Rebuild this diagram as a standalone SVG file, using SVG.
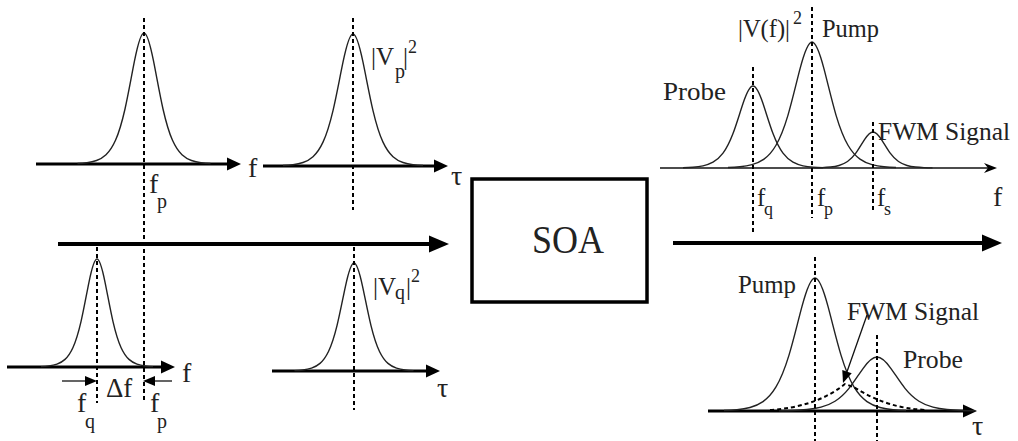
<svg xmlns="http://www.w3.org/2000/svg" xmlns:xlink="http://www.w3.org/1999/xlink" width="1018" height="441" viewBox="0 0 1018 441">
<style>
  text { font-family: 'Liberation Serif', 'Times New Roman', serif; fill: #222; }
  .lbl { font-size: 25px; }
  .ax { font-size: 28px; }
  .sub { font-size: 20px; }
  .sup { font-size: 18px; }
  .big { font-size: 40px; }
  .axis { stroke: #000; stroke-width: 3; fill: none; }
  .thin { stroke: #111; stroke-width: 1.3; fill: none; }
  .main { stroke: #000; stroke-width: 4; fill: none; }
  .dash { stroke: #000; stroke-width: 2; stroke-dasharray: 4 3; fill: none; }
  .bellpath { stroke: #222; stroke-width: 1.4; fill: none; vector-effect: non-scaling-stroke; }
</style>
<defs>
  <path id="bell" class="bellpath" d="M-3.5,-0.0036 C-3.3333,-0.0048 -3.1667,-0.0066 -3,-0.0099 C-2.8333,-0.0131 -2.6667,-0.0179 -2.5,-0.0266 C-2.3333,-0.0354 -2.1667,-0.048 -2,-0.0707 C-1.8333,-0.0934 -1.6667,-0.1262 -1.5,-0.1807 C-1.3333,-0.2352 -1.1667,-0.3134 -1,-0.42 C-0.8333,-0.5266 -0.6667,-0.6653 -0.5,-0.7864 C-0.3333,-0.9075 -0.1667,-1 0,-1 C0.1667,-1 0.3333,-0.9075 0.5,-0.7864 C0.6667,-0.6653 0.8333,-0.5266 1,-0.42 C1.1667,-0.3134 1.3333,-0.2352 1.5,-0.1807 C1.6667,-0.1262 1.8333,-0.0934 2,-0.0707 C2.1667,-0.048 2.3333,-0.0354 2.5,-0.0266 C2.6667,-0.0179 2.8333,-0.0131 3,-0.0099 C3.1667,-0.0066 3.3333,-0.0048 3.5,-0.0036"/>
  <marker id="hAxis" markerUnits="userSpaceOnUse" orient="auto" refX="0" refY="0" markerWidth="14" markerHeight="14" overflow="visible">
    <path d="M0,-6.5 L14,0 L0,6.5 z" fill="#000"/>
  </marker>
  <marker id="hBig" markerUnits="userSpaceOnUse" orient="auto" refX="0" refY="0" markerWidth="20" markerHeight="16" overflow="visible">
    <path d="M0,-8.5 L20,0 L0,8.5 z" fill="#000"/>
  </marker>
  <marker id="hThin" markerUnits="userSpaceOnUse" orient="auto" refX="4" refY="0" markerWidth="13" markerHeight="10" overflow="visible">
    <path d="M0,-5 L13,0 L0,5 L4,0 z" fill="#000"/>
  </marker>
  <marker id="hSmall" markerUnits="userSpaceOnUse" orient="auto" refX="0" refY="0" markerWidth="12" markerHeight="10" overflow="visible">
    <path d="M0,-5 L12,0 L0,5 z" fill="#000"/>
  </marker>
</defs>

<g id="connectors">
  <line class="main" x1="58" y1="244" x2="429" y2="244" marker-end="url(#hBig)"/>
  <line class="main" x1="673" y1="243" x2="982" y2="243" marker-end="url(#hBig)"/>
</g>

<g id="soa">
  <rect x="472" y="179" width="175" height="123" fill="#fff" stroke="#000" stroke-width="3.5"/>
  <text class="big" x="532" y="253" textLength="72" lengthAdjust="spacingAndGlyphs">SOA</text>
</g>

<g id="pump-spectrum">
  <line class="axis" x1="36" y1="164" x2="227" y2="164" marker-end="url(#hAxis)"/>
  <use xlink:href="#bell" transform="translate(144,164) scale(19,131)"/>
  <line class="dash" x1="144" y1="18" x2="144" y2="400"/>
  <text class="ax" x="248" y="177">f</text>
  <text class="ax" x="149" y="193">f</text>
  <text class="sub" x="157" y="208">p</text>
</g>

<g id="pump-time">
  <line class="axis" x1="263" y1="166" x2="434" y2="166" marker-end="url(#hAxis)"/>
  <use xlink:href="#bell" transform="translate(353,166) scale(20,132)"/>
  <line class="dash" x1="353" y1="18" x2="353" y2="210"/>
  <text class="ax" x="451" y="185">τ</text>
  <text class="lbl" x="371" y="65">|V</text>
  <text class="sub" x="395" y="78">p</text>
  <text class="lbl" x="403" y="65">|</text>
  <text class="sup" x="408" y="53">2</text>
</g>

<g id="probe-spectrum">
  <line class="axis" x1="7" y1="367" x2="161" y2="367" marker-end="url(#hAxis)"/>
  <use xlink:href="#bell" transform="translate(97,367) scale(16,108)"/>
  <line class="dash" x1="97" y1="247" x2="97" y2="403"/>
  <text class="ax" x="182" y="382">f</text>
  <line class="thin" x1="62" y1="381" x2="85" y2="381" marker-end="url(#hSmall)"/>
  <line class="thin" x1="172" y1="381" x2="155" y2="381" marker-end="url(#hSmall)"/>
  <text class="lbl" x="106" y="397" style="font-size:27px">Δf</text>
  <text class="ax" x="77" y="412">f</text>
  <text class="sub" x="85" y="428">q</text>
  <text class="ax" x="150" y="412">f</text>
  <text class="sub" x="157" y="428">p</text>
</g>

<g id="probe-time">
  <line class="axis" x1="272" y1="371" x2="426" y2="371" marker-end="url(#hAxis)"/>
  <use xlink:href="#bell" transform="translate(354,371) scale(17,108)"/>
  <line class="dash" x1="354" y1="247" x2="354" y2="410"/>
  <text class="ax" x="437" y="397">τ</text>
  <text class="lbl" x="373" y="295">|V</text>
  <text class="sub" x="395" y="299">q</text>
  <text class="lbl" x="406" y="295">|</text>
  <text class="sup" x="411" y="282">2</text>
</g>

<g id="output-spectrum">
  <line class="thin" x1="660" y1="168" x2="988" y2="168" marker-end="url(#hThin)"/>
  <use xlink:href="#bell" transform="translate(753,168) scale(20,82)"/>
  <use xlink:href="#bell" transform="translate(812,168) scale(24,126)"/>
  <use xlink:href="#bell" transform="translate(873,168) scale(17,36)"/>
  <line class="dash" x1="753" y1="67" x2="753" y2="233"/>
  <line class="dash" x1="812" y1="7" x2="812" y2="218"/>
  <line class="dash" x1="873" y1="122" x2="873" y2="213"/>
  <text class="lbl" x="738" y="37" textLength="52" lengthAdjust="spacingAndGlyphs">|V(f)|</text>
  <text class="sup" x="793" y="24">2</text>
  <text class="lbl" x="822" y="37" textLength="57" lengthAdjust="spacingAndGlyphs">Pump</text>
  <text class="lbl" x="663" y="100" textLength="63" lengthAdjust="spacingAndGlyphs">Probe</text>
  <text class="lbl" x="878" y="140" textLength="132" lengthAdjust="spacingAndGlyphs">FWM Signal</text>
  <text class="ax" x="993" y="206">f</text>
  <text class="lbl" x="757" y="206">f</text>
  <text class="sup" x="764" y="215">q</text>
  <text class="lbl" x="817" y="206">f</text>
  <text class="sup" x="824" y="215">p</text>
  <text class="lbl" x="877" y="206">f</text>
  <text class="sup" x="884" y="215">s</text>
</g>

<g id="output-time">
  <line class="axis" x1="708" y1="411" x2="963" y2="411" stroke-width="2.5" marker-end="url(#hAxis)"/>
  <use xlink:href="#bell" transform="translate(815,411) scale(26,133)"/>
  <use xlink:href="#bell" transform="translate(877,411) scale(28,54)"/>
  <line class="dash" x1="815" y1="257" x2="815" y2="441"/>
  <line class="dash" x1="877" y1="335" x2="877" y2="441"/>
  <path class="dash" stroke-width="1.5" d="M770,410 C800,408 825,400 845,384 C851,386 856,388 862,392 C880,402 900,409 927,410"/>
  <line class="thin" x1="867" y1="315" x2="847" y2="371.7" marker-end="url(#hSmall)"/>
  <text class="lbl" x="738" y="293" textLength="58" lengthAdjust="spacingAndGlyphs">Pump</text>
  <text class="lbl" x="847" y="320" textLength="132" lengthAdjust="spacingAndGlyphs">FWM Signal</text>
  <text class="lbl" x="903" y="368" textLength="60" lengthAdjust="spacingAndGlyphs">Probe</text>
  <text class="ax" x="972" y="435">τ</text>
</g>
</svg>
